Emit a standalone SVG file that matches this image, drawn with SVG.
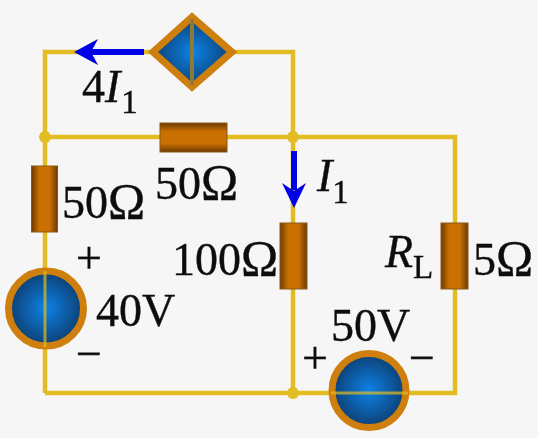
<svg xmlns="http://www.w3.org/2000/svg" width="538" height="438" viewBox="0 0 538 438">
<style>
.w{fill:none;stroke:#e3bb20;stroke-width:4.500;stroke-linejoin:miter}
.d{fill:#e3bb20}
.c{stroke:#cf7f0a;stroke-width:7}
.a{fill:#0000e6;stroke:none}
.al{stroke:#0000e6;stroke-width:6;fill:none}
text{font-family:"Liberation Serif","Times New Roman",serif;font-size:46px;fill:#111;stroke:#111;stroke-width:.4}
.s{font-size:33px}
.o{font-size:50px}
.i{font-style:italic}
.n{font-style:normal}
.r{stroke:#8a5a10;stroke-width:1}
</style>
<defs>
<filter id="soft" filterUnits="userSpaceOnUse" x="0" y="0" width="538" height="438"><feGaussianBlur stdDeviation=".5"/></filter>
<radialGradient id="b"><stop offset="0" stop-color="#0a82e6"/><stop offset="1" stop-color="#0a3f72"/></radialGradient>
<linearGradient id="rv" x1="0" x2="1" y1="0" y2="0"><stop offset="0" stop-color="#6e3a06"/><stop offset=".3" stop-color="#c96f00"/><stop offset=".7" stop-color="#c96f00"/><stop offset="1" stop-color="#6e3a06"/></linearGradient>
<linearGradient id="rh" x1="0" x2="0" y1="0" y2="1"><stop offset="0" stop-color="#6e3a06"/><stop offset=".3" stop-color="#c96f00"/><stop offset=".7" stop-color="#c96f00"/><stop offset="1" stop-color="#6e3a06"/></linearGradient>
</defs>
<rect width="538" height="438" fill="#f6f6f6"/>
<g filter="url(#soft)">
<g id="connectors">
<path class="w" d="M45 393V52H293V393"/>
<path class="w" d="M45 137H455V393H45"/>
<circle class="d" cx="45" cy="137" r="6"/>
<circle class="d" cx="293" cy="137" r="6"/>
<circle class="d" cx="293" cy="393" r="6"/>
</g>
<g id="source-4I1">
<path class="c" fill="url(#b)" d="M192 17L232 52L192 87L153 52Z"/>
<path d="M192 19V85" stroke="#8a7a3a" stroke-width="4"/>
<path class="al" d="M144 52H88"/>
<path class="a" d="M74 52L98 39L91 52L98 65Z"/>
<text x="82" y="102">4<tspan class="i">I</tspan><tspan class="s" dx="1" dy="11">1</tspan></text>
</g>
<g id="r-50-top">
<rect class="r" x="160" y="123" width="67" height="29" fill="url(#rh)"/>
<text x="155" y="199">50<tspan class="o">Ω</tspan></text>
</g>
<g id="r-50-left">
<rect class="r" x="31.500" y="166" width="26" height="66" fill="url(#rv)"/>
<text x="62" y="218">50<tspan class="o">Ω</tspan></text>
</g>
<g id="source-40V">
<circle class="c" cx="46" cy="308.500" r="37.500" fill="url(#b)"/>
<path d="M45 271V347" stroke="#e3bb20" stroke-width="3" opacity=".7"/>
<text x="76" y="273">+</text>
<text x="96" y="326">40V</text>
<text x="76" y="369">−</text>
</g>
<g id="r-100">
<rect class="r" x="280" y="223" width="27" height="66" fill="url(#rv)"/>
<path class="al" d="M294 151V190"/>
<path class="a" d="M294 208L282 183L294 191L306 183Z"/>
<text x="172" y="275">100<tspan class="o">Ω</tspan></text>
<text class="i" x="317" y="191">I<tspan class="s n" dy="12">1</tspan></text>
</g>
<g id="r-load">
<rect class="r" x="441" y="223" width="27" height="66" fill="url(#rv)"/>
<text class="i" x="385" y="267">R<tspan class="s n" dy="11">L</tspan></text>
<text x="473" y="275">5<tspan class="o">Ω</tspan></text>
</g>
<g id="source-50V">
<circle class="c" cx="369" cy="390.500" r="37" fill="url(#b)"/>
<path d="M331 393H408" stroke="#e3bb20" stroke-width="3" opacity=".7"/>
<text x="331" y="341">50V</text>
<text x="302" y="373">+</text>
<text x="409" y="373">−</text>
</g>
</g>
</svg>
